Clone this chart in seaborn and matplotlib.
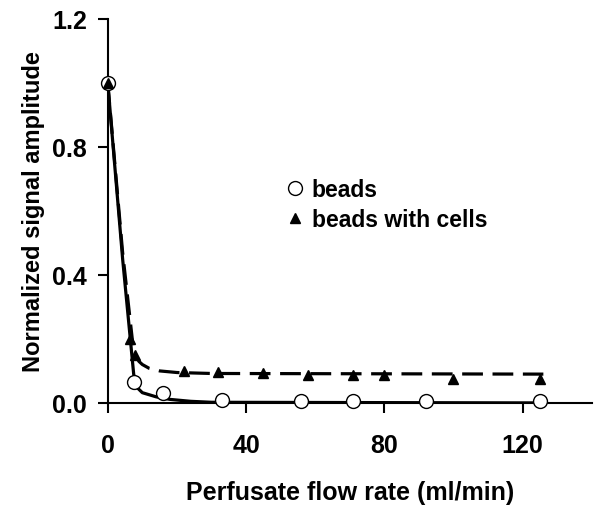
import pandas as pd
import matplotlib.pyplot as plt
import seaborn as sns

# measured points
beads_x = [0, 7.5, 16, 33, 56, 71, 92, 125]
beads_y = [1.0, 0.065, 0.03, 0.008, 0.007, 0.005, 0.005, 0.005]
cells_x = [0, 6.5, 8, 22, 32, 45, 58, 71, 80, 100, 125]
cells_y = [1.0, 0.2, 0.15, 0.1, 0.098, 0.095, 0.088, 0.088, 0.088, 0.075, 0.075]

# fitted curves
fit_beads_x = [0, 4.3, 7.5, 8.3, 10, 14, 18, 24, 30, 126]
fit_beads_y = [1.0, 0.45, 0.09, 0.05, 0.032, 0.019, 0.011, 0.005, 0.002, 0.0]
fit_cells_x = [0, 4.3, 7.5, 9, 10, 12, 15, 20, 30, 126]
fit_cells_y = [1.0, 0.47, 0.16, 0.13, 0.12, 0.108, 0.1, 0.095, 0.092, 0.09]

sns.set_style("ticks")
plt.rcParams['font.family'] = ['Liberation Sans', 'DejaVu Sans']
plt.rcParams['font.weight'] = 'bold'
plt.rcParams['text.color'] = 'black'
plt.rcParams['axes.labelcolor'] = 'black'
plt.rcParams['xtick.color'] = 'black'
plt.rcParams['ytick.color'] = 'black'
plt.rcParams['axes.edgecolor'] = 'black'

fig = plt.figure(figsize=(6.02, 5.10), dpi=100)
ax = fig.add_axes([0.179, 0.208, 0.804, 0.753])

sns.lineplot(x=fit_beads_x, y=fit_beads_y, ax=ax, color="black", lw=2.3, sort=False)
sns.lineplot(x=fit_cells_x, y=fit_cells_y, ax=ax, color="black", lw=2.3, sort=False,
             linestyle=(0, (6.5, 3)))
ax.plot(beads_x, beads_y, "o", ms=10, mfc="white", mec="black", mew=1.0,
        clip_on=False, label="beads", zorder=3)
ax.plot(cells_x, cells_y, "^", ms=7, color="black", clip_on=False,
        label="beads with cells", zorder=4)

ax.set_xlim(0, 140)
ax.set_ylim(0, 1.2)
ax.set_xticks([0, 40, 80, 120])
ax.set_yticks([0, 0.4, 0.8, 1.2])
ax.set_yticklabels(["0.0", "0.4", "0.8", "1.2"])
ax.tick_params(labelsize=18, length=7, width=1.5)
ax.tick_params(axis="x", pad=15)
ax.tick_params(axis="y", pad=8)
for s in ["left", "bottom"]:
    ax.spines[s].set_linewidth(1.5)
sns.despine(ax=ax)

ax.set_xlabel("Perfusate flow rate (ml/min)", fontsize=18, fontweight="bold", labelpad=16)
ax.set_ylabel("Normalized signal amplitude", fontsize=17, fontweight="bold", labelpad=5)

handles, labels = ax.get_legend_handles_labels()
ax.legend(handles[-2:], labels[-2:], loc="upper left", bbox_to_anchor=(0.315, 0.64),
          frameon=False, fontsize=16.5, handletextpad=0.15, labelspacing=0.3,
          handlelength=1.2)

fig.savefig("out.png", dpi=100)
